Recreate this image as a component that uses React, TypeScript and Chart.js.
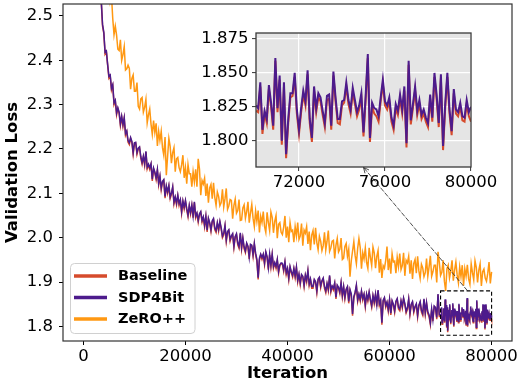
import React, { useEffect, useRef } from 'react';
import { Chart, registerables } from 'chart.js';

Chart.register(...registerables);

const FONT = 'DejaVu Sans';

// iterations: regular logging steps
const STEP = 250;
const MAIN_START = 3000;
const ZERO_START = 4750;
const INSET_START = 70000;
const INSET_STEP = 100;

// SDP4Bit, 3000 .. 69750 (step 250)
const sdp4bitMain = [
  2.588, 2.545, 2.534, 2.481, 2.463, 2.418, 2.421, 2.391,
  2.364, 2.367, 2.337, 2.345, 2.304, 2.31, 2.281, 2.293,
  2.283, 2.257, 2.274, 2.255, 2.271, 2.235, 2.241, 2.219,
  2.214, 2.226, 2.217, 2.192, 2.214, 2.215, 2.192, 2.202,
  2.205, 2.183, 2.17, 2.184, 2.167, 2.195, 2.159, 2.166,
  2.158, 2.167, 2.132, 2.157, 2.148, 2.135, 2.154, 2.123,
  2.139, 2.112, 2.127, 2.131, 2.093, 2.117, 2.104, 2.118,
  2.092, 2.1, 2.115, 2.08, 2.092, 2.078, 2.096, 2.077,
  2.086, 2.059, 2.083, 2.069, 2.084, 2.066, 2.051, 2.073,
  2.057, 2.074, 2.049, 2.081, 2.049, 2.056, 2.039, 2.054,
  2.059, 2.039, 2.047, 2.028, 2.049, 2.017, 2.044, 2.034,
  2.018, 2.038, 2.043, 2.022, 2.016, 2.034, 2.019, 2.037,
  2.022, 2.004, 2.01, 2.028, 1.995, 2.014, 2.018, 1.996,
  2.004, 2.009, 1.981, 2.003, 2.009, 1.988, 1.98, 2.011,
  1.978, 2.0, 1.979, 1.97, 1.988, 1.981, 1.956, 1.985,
  1.983, 1.962, 1.987, 1.965, 1.951, 1.91, 1.954, 1.963,
  1.955, 1.963, 1.943, 1.968, 1.957, 1.932, 1.963, 1.938,
  1.963, 1.935, 1.944, 1.935, 1.951, 1.924, 1.939, 1.943,
  1.942, 1.928, 1.946, 1.921, 1.931, 1.909, 1.935, 1.923,
  1.915, 1.931, 1.914, 1.934, 1.904, 1.918, 1.898, 1.917,
  1.913, 1.893, 1.916, 1.904, 1.926, 1.896, 1.907, 1.89,
  1.89, 1.906, 1.901, 1.88, 1.907, 1.911, 1.891, 1.903,
  1.909, 1.89, 1.88, 1.897, 1.884, 1.915, 1.881, 1.891,
  1.886, 1.898, 1.866, 1.893, 1.888, 1.878, 1.899, 1.87,
  1.89, 1.866, 1.884, 1.89, 1.856, 1.883, 1.873, 1.828,
  1.867, 1.877, 1.893, 1.86, 1.873, 1.861, 1.88, 1.863,
  1.873, 1.848, 1.873, 1.861, 1.878, 1.861, 1.847, 1.87,
  1.855, 1.873, 1.849, 1.882, 1.851, 1.859, 1.808, 1.859,
  1.865, 1.847, 1.855, 1.838, 1.861, 1.83, 1.858, 1.85,
  1.835, 1.857, 1.863, 1.843, 1.839, 1.858, 1.845, 1.864,
  1.851, 1.834, 1.842, 1.862, 1.83, 1.85, 1.856, 1.835,
  1.845, 1.851, 1.825, 1.848, 1.856, 1.836, 1.829, 1.862,
  1.831, 1.854, 1.833, 1.826, 1.808, 1.84, 1.816, 1.846,
  1.843, 1.82, 1.873, 1.826,
];

// Baseline, 3000 .. 69750 (step 250)
const baselineMain = [
  2.586, 2.541, 2.532, 2.477, 2.461, 2.414, 2.419, 2.389,
  2.36, 2.365, 2.333, 2.343, 2.3, 2.308, 2.277, 2.291,
  2.281, 2.253, 2.272, 2.251, 2.269, 2.231, 2.239, 2.215,
  2.21, 2.224, 2.215, 2.188, 2.212, 2.213, 2.188, 2.2,
  2.203, 2.179, 2.166, 2.182, 2.163, 2.193, 2.155, 2.164,
  2.154, 2.165, 2.128, 2.155, 2.146, 2.131, 2.152, 2.119,
  2.137, 2.108, 2.125, 2.129, 2.089, 2.115, 2.1, 2.116,
  2.088, 2.098, 2.113, 2.076, 2.09, 2.074, 2.094, 2.073,
  2.084, 2.055, 2.081, 2.065, 2.082, 2.062, 2.047, 2.071,
  2.053, 2.072, 2.045, 2.079, 2.045, 2.054, 2.035, 2.052,
  2.057, 2.035, 2.045, 2.024, 2.047, 2.013, 2.042, 2.032,
  2.014, 2.036, 2.041, 2.018, 2.012, 2.032, 2.015, 2.035,
  2.02, 2.0, 2.006, 2.026, 1.991, 2.012, 2.016, 1.992,
  2.002, 2.007, 1.977, 2.001, 2.007, 1.984, 1.976, 2.009,
  1.974, 1.998, 1.975, 1.966, 1.986, 1.979, 1.952, 1.983,
  1.981, 1.958, 1.985, 1.961, 1.947, 1.906, 1.95, 1.961,
  1.951, 1.961, 1.939, 1.966, 1.955, 1.928, 1.961, 1.934,
  1.961, 1.931, 1.942, 1.931, 1.949, 1.92, 1.937, 1.941,
  1.94, 1.924, 1.944, 1.917, 1.929, 1.905, 1.933, 1.921,
  1.911, 1.929, 1.91, 1.932, 1.9, 1.916, 1.894, 1.915,
  1.911, 1.889, 1.914, 1.9, 1.924, 1.892, 1.905, 1.886,
  1.886, 1.904, 1.899, 1.876, 1.905, 1.909, 1.887, 1.901,
  1.907, 1.886, 1.876, 1.895, 1.88, 1.913, 1.877, 1.889,
  1.882, 1.896, 1.862, 1.891, 1.886, 1.874, 1.897, 1.866,
  1.888, 1.862, 1.882, 1.888, 1.852, 1.881, 1.869, 1.824,
  1.863, 1.875, 1.891, 1.856, 1.871, 1.857, 1.878, 1.859,
  1.871, 1.844, 1.871, 1.857, 1.876, 1.857, 1.843, 1.868,
  1.851, 1.871, 1.845, 1.88, 1.847, 1.857, 1.804, 1.857,
  1.863, 1.843, 1.853, 1.834, 1.859, 1.826, 1.856, 1.848,
  1.831, 1.855, 1.861, 1.839, 1.835, 1.856, 1.841, 1.862,
  1.849, 1.83, 1.838, 1.86, 1.826, 1.848, 1.854, 1.831,
  1.843, 1.849, 1.821, 1.846, 1.854, 1.832, 1.825, 1.86,
  1.827, 1.852, 1.829, 1.822, 1.804, 1.838, 1.812, 1.844,
  1.841, 1.816, 1.871, 1.822,
];

// ZeRO++, 4750 .. 80000 (step 250)
const zeroppLoss = [
  2.61,
  2.588, 2.533, 2.546, 2.494, 2.458, 2.477, 2.457, 2.425,
  2.422, 2.446, 2.4, 2.413, 2.431, 2.378, 2.381, 2.389,
  2.382, 2.335, 2.359, 2.367, 2.33, 2.33, 2.35, 2.296,
  2.29, 2.313, 2.316, 2.283, 2.294, 2.312, 2.259, 2.277,
  2.29, 2.256, 2.233, 2.264, 2.237, 2.258, 2.207, 2.24,
  2.219, 2.24, 2.203, 2.186, 2.227, 2.141, 2.183, 2.224,
  2.206, 2.168, 2.192, 2.203, 2.149, 2.178, 2.181, 2.158,
  2.149, 2.164, 2.186, 2.135, 2.158, 2.122, 2.165, 2.144,
  2.144, 2.115, 2.149, 2.126, 2.154, 2.115, 2.178, 2.155,
  2.096, 2.129, 2.121, 2.134, 2.094, 2.122, 2.079, 2.112,
  2.12, 2.088, 2.124, 2.091, 2.073, 2.103, 2.093, 2.072,
  2.079, 2.109, 2.069, 2.088, 2.111, 2.064, 2.072, 2.086,
  2.084, 2.043, 2.073, 2.087, 2.055, 2.061, 2.086, 2.039,
  2.04, 2.067, 2.074, 2.044, 2.059, 2.081, 2.034, 2.056,
  2.075, 2.044, 2.025, 2.06, 2.037, 2.061, 2.012, 2.048,
  2.034, 2.059, 2.025, 2.012, 2.057, 2.034, 2.016, 2.058,
  2.046, 2.011, 2.037, 2.05, 1.999, 2.03, 2.034, 2.012,
  2.007, 2.024, 2.049, 2.0, 2.025, 1.99, 2.034, 2.014,
  2.017, 1.99, 2.025, 2.004, 2.034, 1.996, 2.004, 2.032,
  1.982, 2.017, 2.01, 2.025, 1.986, 2.014, 1.972, 2.006,
  2.016, 1.985, 2.022, 1.989, 1.973, 2.003, 1.992, 1.971,
  1.982, 2.012, 1.972, 1.992, 2.016, 1.969, 1.977, 1.992,
  1.994, 1.953, 1.983, 1.998, 1.968, 1.974, 1.999, 1.951,
  1.954, 1.98, 1.987, 1.958, 1.974, 1.912, 1.948, 1.97,
  1.991, 1.96, 1.941, 1.976, 1.998, 1.978, 1.93, 1.966,
  1.952, 1.977, 1.944, 1.931, 1.977, 1.955, 1.937, 1.979,
  1.966, 1.931, 1.958, 1.971, 1.921, 1.952, 1.909, 1.937,
  1.931, 1.949, 1.98, 1.927, 1.953, 1.919, 1.964, 1.945,
  1.947, 1.92, 1.956, 1.935, 1.964, 1.928, 1.937, 1.966,
  1.914, 1.949, 1.943, 1.958, 1.919, 1.949, 1.907, 1.942,
  1.951, 1.92, 1.958, 1.925, 1.908, 1.94, 1.932, 1.912,
  1.921, 1.953, 1.913, 1.934, 1.959, 1.913, 1.923, 1.938,
  1.938, 1.899, 1.968, 1.945, 1.915, 1.922, 1.949, 1.902,
  1.88, 1.93, 1.938, 1.909, 1.925, 1.949, 1.903, 1.927,
  1.945, 1.916, 1.898, 1.934, 1.912, 1.938, 1.892, 1.93,
  1.913, 1.939, 1.907, 1.895, 1.941, 1.921, 1.905, 1.948,
  1.933, 1.899, 1.927, 1.941, 1.891, 1.923, 1.929, 1.909,
  1.902, 1.92, 1.945, 1.897, 1.923,
];

// Zoomed window 70000 .. 80000 (step 100)
const sdp4bitInset = [
  1.826, 1.824, 1.843, 1.808, 1.822, 1.816, 1.841, 1.828, 1.811, 1.861,
  1.824, 1.848, 1.8, 1.843, 1.79, 1.816, 1.835, 1.835, 1.85, 1.823,
  1.808, 1.824, 1.837, 1.829, 1.852, 1.816, 1.802, 1.84, 1.824, 1.835,
  1.832, 1.822, 1.813, 1.833, 1.834, 1.811, 1.851, 1.832, 1.816, 1.816,
  1.829, 1.83, 1.843, 1.83, 1.823, 1.839, 1.83, 1.821, 1.826, 1.835,
  1.806, 1.833, 1.864, 1.802, 1.828, 1.824, 1.823, 1.818, 1.832, 1.845,
  1.829, 1.826, 1.832, 1.817, 1.811, 1.827, 1.822, 1.834, 1.823, 1.84,
  1.798, 1.859, 1.815, 1.827, 1.84, 1.822, 1.83, 1.819, 1.823, 1.817,
  1.813, 1.834, 1.817, 1.85, 1.834, 1.813, 1.849, 1.796, 1.827, 1.85,
  1.823, 1.807, 1.838, 1.823, 1.821, 1.828, 1.818, 1.817, 1.83, 1.821,
  1.825,
];

const baselineInset = [
  1.822, 1.821, 1.84, 1.805, 1.82, 1.813, 1.838, 1.825, 1.808, 1.859,
  1.821, 1.845, 1.797, 1.84, 1.787, 1.813, 1.832, 1.833, 1.847, 1.82,
  1.805, 1.821, 1.834, 1.826, 1.849, 1.813, 1.799, 1.837, 1.821, 1.832,
  1.829, 1.819, 1.81, 1.83, 1.831, 1.808, 1.848, 1.829, 1.813, 1.812,
  1.826, 1.828, 1.84, 1.827, 1.82, 1.836, 1.827, 1.818, 1.823, 1.832,
  1.803, 1.83, 1.861, 1.799, 1.825, 1.82, 1.818, 1.814, 1.829, 1.842,
  1.826, 1.823, 1.829, 1.814, 1.808, 1.824, 1.819, 1.831, 1.82, 1.837,
  1.795, 1.856, 1.812, 1.824, 1.837, 1.819, 1.827, 1.816, 1.82, 1.814,
  1.81, 1.831, 1.814, 1.847, 1.831, 1.81, 1.846, 1.793, 1.824, 1.847,
  1.82, 1.804, 1.835, 1.82, 1.818, 1.825, 1.815, 1.814, 1.827, 1.818,
  1.814,
];

const xTicksMain = [0, 20000, 40000, 60000, 80000];
const yTicksMain = [1.8, 1.9, 2.0, 2.1, 2.2, 2.3, 2.4, 2.5];
const xTicksInset = [72000, 76000, 80000];
const yTicksInset = [1.8, 1.825, 1.85, 1.875];

const seriesNames = ['Baseline', 'SDP4Bit', 'ZeRO++'];
const seriesColors = ['#d64b2c', '#4d1b8c', '#ff9812'];

// zoom window marked on the main plot
const zoomBox = { x0: 70000, x1: 80000, y0: 1.78, y1: 1.88 };

export default function App() {
  const mainRef = useRef<HTMLCanvasElement>(null);
  const insetRef = useRef<HTMLCanvasElement>(null);

  useEffect(() => {
    const oldMargin = document.body.style.margin;
    document.body.style.margin = '0';

    const toPts = (arr: number[], start: number, step: number) =>
      arr.map((y, i) => ({ x: start + i * step, y }));

    const sdpAll = [...toPts(sdp4bitMain, MAIN_START, STEP), ...toPts(sdp4bitInset, INSET_START, INSET_STEP)];
    const baseAll = [...toPts(baselineMain, MAIN_START, STEP), ...toPts(baselineInset, INSET_START, INSET_STEP)];
    const zeroAll = toPts(zeroppLoss, ZERO_START, STEP);

    const tickFont = { family: FONT, size: 16.5 };

    const mainPlugin = {
      id: 'mainDeco',
      afterDraw(chart: any) {
        const { ctx, chartArea: a, scales } = chart;
        const xs = scales.x, ys = scales.y;
        ctx.save();
        ctx.strokeStyle = '#333';
        ctx.lineWidth = 1.2;
        ctx.strokeRect(a.left, a.top, a.right - a.left, a.bottom - a.top);
        const bx0 = xs.getPixelForValue(zoomBox.x0);
        const bx1 = xs.getPixelForValue(zoomBox.x1);
        const by0 = ys.getPixelForValue(zoomBox.y1);
        const by1 = ys.getPixelForValue(zoomBox.y0);
        ctx.setLineDash([4, 2.5]);
        ctx.strokeStyle = '#000';
        ctx.lineWidth = 1.1;
        ctx.strokeRect(bx0, by0, bx1 - bx0, by1 - by0);
        ctx.setLineDash([]);
        const lx = 70.5, ly = 263.5, lw = 124.5, lh = 70;
        ctx.beginPath();
        ctx.roundRect(lx, ly, lw, lh, 4);
        ctx.fillStyle = 'rgba(255,255,255,0.85)';
        ctx.fill();
        ctx.strokeStyle = '#d0d0d0';
        ctx.lineWidth = 1;
        ctx.stroke();
        const rows = [276, 297.5, 319];
        ctx.font = `bold 14.5px "${FONT}"`;
        ctx.textBaseline = 'middle';
        ctx.textAlign = 'left';
        seriesNames.forEach((name, i) => {
          ctx.beginPath();
          ctx.strokeStyle = seriesColors[i];
          ctx.lineWidth = 3.5;
          ctx.moveTo(74, rows[i]);
          ctx.lineTo(107, rows[i]);
          ctx.stroke();
          ctx.fillStyle = '#000';
          ctx.fillText(name, 118, rows[i] + 0.5);
        });
        ctx.restore();
      },
    };

    const main = new Chart(mainRef.current!, {
      type: 'line',
      data: {
        datasets: [
          { label: seriesNames[2], data: zeroAll, borderColor: seriesColors[2], borderWidth: 1.5, pointRadius: 0, tension: 0 },
          { label: seriesNames[1], data: sdpAll, borderColor: seriesColors[1], borderWidth: 1.5, pointRadius: 0, tension: 0 },
          { label: seriesNames[0], data: baseAll, borderColor: seriesColors[0], borderWidth: 1.5, pointRadius: 0, tension: 0 },
        ],
      },
      options: {
        animation: false,
        responsive: false,
        devicePixelRatio: 1,
        parsing: false,
        normalized: true,
        events: [],
        layout: { padding: { left: 0, right: 10, top: 4, bottom: 0 } },
        plugins: { legend: { display: false }, tooltip: { enabled: false } },
        scales: {
          x: {
            type: 'linear',
            min: -4000,
            max: 84000,
            afterBuildTicks: (s: any) => { s.ticks = xTicksMain.map((v) => ({ value: v })); },
            afterFit: (s: any) => { s.height = 43; s.paddingLeft = 0; s.paddingRight = 0; },
            ticks: { callback: (v: any) => String(v), font: tickFont, color: '#000', padding: 1.5, maxRotation: 0, autoSkip: false },
            grid: { drawOnChartArea: false, tickLength: 4, tickColor: '#000', tickWidth: 1 },
            border: { display: false },
            title: { display: true, text: 'Iteration', color: '#000', font: { family: FONT, size: 16.5, weight: 'bold' }, padding: 0 },
          },
          y: {
            type: 'linear',
            min: 1.767,
            max: 2.527,
            afterBuildTicks: (s: any) => { s.ticks = yTicksMain.map((v) => ({ value: v })); },
            afterFit: (s: any) => { s.width = 63; s.paddingTop = 0; s.paddingBottom = 0; },
            ticks: { callback: (v: any) => Number(v).toFixed(1), font: tickFont, color: '#000', padding: 6, autoSkip: false },
            grid: { drawOnChartArea: false, tickLength: 4, tickColor: '#000', tickWidth: 1 },
            border: { display: false },
            title: { display: true, text: 'Validation Loss', color: '#000', font: { family: FONT, size: 16.5, weight: 'bold' }, padding: { top: 3, bottom: 0 } },
          },
        },
      },
      plugins: [mainPlugin],
    } as any);

    const insetPlugin = {
      id: 'insetDeco',
      beforeDraw(chart: any) {
        const { ctx, chartArea: a } = chart;
        ctx.save();
        ctx.fillStyle = '#e5e5e5';
        ctx.fillRect(a.left, a.top, a.right - a.left, a.bottom - a.top);
        ctx.restore();
      },
      afterDraw(chart: any) {
        const { ctx, chartArea: a, scales } = chart;
        ctx.save();
        ctx.strokeStyle = '#3a3a3a';
        ctx.lineWidth = 1.3;
        ctx.strokeRect(a.left, a.top, a.right - a.left, a.bottom - a.top);
        const mx = main.scales.x.getPixelForValue(75300);
        const my = main.scales.y.getPixelForValue(zoomBox.y1);
        const ix = scales.x.getPixelForValue(75000);
        const iy = a.bottom + 0.5;
        ctx.strokeStyle = '#222';
        ctx.lineWidth = 0.8;
        ctx.setLineDash([5, 1.5]);
        ctx.beginPath();
        ctx.moveTo(mx, my);
        ctx.lineTo(ix, iy);
        ctx.stroke();
        ctx.setLineDash([]);
        const ang = Math.atan2(my - iy, mx - ix);
        const hl = 6, spread = 0.45;
        ctx.beginPath();
        ctx.moveTo(ix + hl * Math.cos(ang + spread), iy + hl * Math.sin(ang + spread));
        ctx.lineTo(ix, iy);
        ctx.lineTo(ix + hl * Math.cos(ang - spread), iy + hl * Math.sin(ang - spread));
        ctx.stroke();
        ctx.restore();
      },
    };

    const inset = new Chart(insetRef.current!, {
      type: 'line',
      data: {
        datasets: [
          { label: seriesNames[1], data: toPts(sdp4bitInset, INSET_START, INSET_STEP), borderColor: seriesColors[1], borderWidth: 2, pointRadius: 0, tension: 0 },
          { label: seriesNames[0], data: toPts(baselineInset, INSET_START, INSET_STEP), borderColor: seriesColors[0], borderWidth: 2, pointRadius: 0, tension: 0 },
        ],
      },
      options: {
        animation: false,
        responsive: false,
        devicePixelRatio: 1,
        parsing: false,
        events: [],
        layout: { padding: { left: 190, right: 51, top: 33, bottom: 190 } },
        plugins: { legend: { display: false }, tooltip: { enabled: false } },
        scales: {
          x: {
            type: 'linear',
            min: 70000,
            max: 80000,
            afterBuildTicks: (s: any) => { s.ticks = xTicksInset.map((v) => ({ value: v })); },
            afterFit: (s: any) => { s.height = 27; s.paddingLeft = 0; s.paddingRight = 0; },
            ticks: { callback: (v: any) => String(v), font: tickFont, color: '#000', padding: 1.5, maxRotation: 0, autoSkip: false },
            grid: { color: '#ffffff', lineWidth: 1.2, tickLength: 4, tickColor: '#333', tickWidth: 1 },
            border: { display: false },
          },
          y: {
            type: 'linear',
            min: 1.7805,
            max: 1.8795,
            afterBuildTicks: (s: any) => { s.ticks = yTicksInset.map((v) => ({ value: v })); },
            afterFit: (s: any) => { s.width = 66; s.paddingTop = 0; s.paddingBottom = 0; },
            ticks: { callback: (v: any) => Number(v).toFixed(3), font: tickFont, color: '#000', padding: 3.5, autoSkip: false },
            grid: { color: '#ffffff', lineWidth: 1.2, tickLength: 4, tickColor: '#333', tickWidth: 1 },
            border: { display: false },
          },
        },
      },
      plugins: [insetPlugin],
    } as any);

    return () => {
      inset.destroy();
      main.destroy();
      document.body.style.margin = oldMargin;
    };
  }, []);

  return (
    <div style={{ position: 'fixed', left: 0, top: 0, width: 522, height: 384, background: '#fff' }}>
      <canvas ref={mainRef} width={522} height={384} style={{ position: 'absolute', left: 0, top: 0, width: 522, height: 384 }} />
      <canvas ref={insetRef} width={522} height={384} style={{ position: 'absolute', left: 0, top: 0, width: 522, height: 384, pointerEvents: 'none' }} />
    </div>
  );
}
